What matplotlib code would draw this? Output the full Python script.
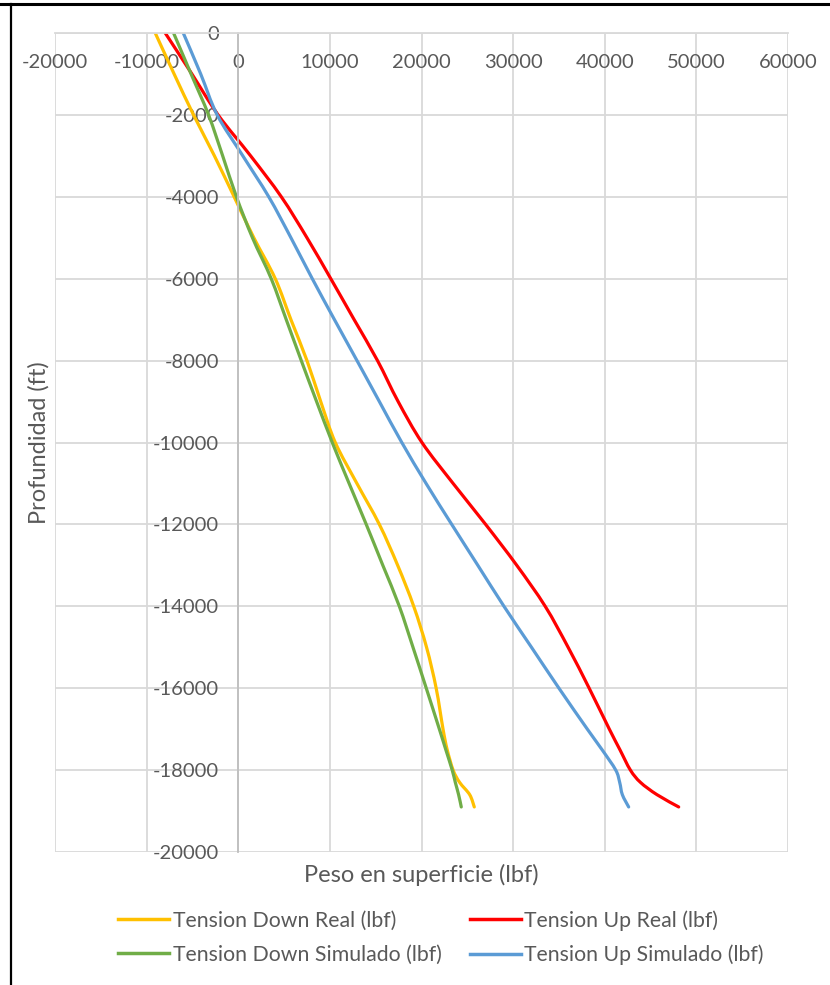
import matplotlib
matplotlib.use("Agg")
import numpy as np
import matplotlib.pyplot as plt
from matplotlib.lines import Line2D
from matplotlib.path import Path
from matplotlib.patches import PathPatch

# Depth stations (ft) and surface weight per case (lbf)
depth = [0, -1000, -2000, -3000, -4000, -5000, -6000, -7000, -8000, -9000,
         -10000, -11000, -12000, -13000, -14000, -15000, -16000, -17000,
         -17500, -18000, -18300, -18600, -18900]

tension_down_real = [-9060, -7000, -4880, -2600, -450, 1700, 4040, 5750, 7500,
                     9000, 10590, 12950, 15400, 17400, 19150, 20550, 21600,
                     22350, 22800, 23450, 24160, 25260, 25760]

tension_up_real = [-7970, -5060, -2200, 1350, 4700, 7500, 10100, 12650, 15200,
                   17450, 20050, 23450, 27000, 30400, 33500, 36000, 38300,
                   40500, 41650, 42800, 43900, 45700, 48070]

tension_down_sim = [-7060, -5150, -3240, -1700, -200, 1550, 3600, 5240, 6880,
                    8550, 10260, 12100, 13970, 15780, 17580, 19070, 20520,
                    21950, 22650, 23350, 23690, 24050, 24340]

tension_up_sim = [-6000, -4100, -2300, 500, 3330, 5750, 8080, 10500, 12960,
                  15400, 17850, 20500, 23300, 26150, 29000, 32000, 35000,
                  38100, 39700, 41200, 41630, 41920, 42610]

series_labels = ["Tension Down Real (lbf)", "Tension Up Real (lbf)",
                 "Tension Down Simulado (lbf)", "Tension Up Simulado (lbf)"]
x_ticks = [-20000, -10000, 0, 10000, 20000, 30000, 40000, 50000, 60000]
y_ticks = [0, -2000, -4000, -6000, -8000, -10000, -12000, -14000, -16000,
           -18000, -20000]

c_yellow = "#FFC000"
c_red = "#FF0000"
c_green = "#70AD47"
c_blue = "#5B9BD5"
grid_c = "#D9D9D9"
text_c = "#595959"

plt.rcParams["font.family"] = ["Lato", "DejaVu Sans"]


def smooth_path(xs, ys):
    """Smoothed line through the points (Catmull-Rom segments as cubic Beziers)."""
    p = np.column_stack([xs, ys]).astype(float)
    n = len(p)
    verts = [p[0]]
    codes = [Path.MOVETO]
    for i in range(n - 1):
        p0 = p[i - 1] if i > 0 else p[i]
        p1, p2 = p[i], p[i + 1]
        p3 = p[i + 2] if i + 2 < n else p[i + 1]
        c1 = p1 + (p2 - p0) / 6.0
        c2 = p2 - (p3 - p1) / 6.0
        verts += [c1, c2, p2]
        codes += [Path.CURVE4] * 3
    return Path(verts, codes)


W, H = 830, 985
fig = plt.figure(figsize=(W / 100, H / 100), dpi=100)
fig.patch.set_facecolor("white")

left, right, top, bottom = 55, 788, 33, 852
ax = fig.add_axes([left / W, 1 - bottom / H, (right - left) / W, (bottom - top) / H])

ax.set_xlim(-20000, 60000)
ax.set_ylim(-20000, 0)
ax.set_xticks(x_ticks)
ax.set_yticks(y_ticks)
ax.set_xticklabels([str(v) for v in x_ticks])
ax.set_yticklabels([str(v) for v in y_ticks])

ax.grid(True, color=grid_c, linewidth=1.3)
ax.set_axisbelow(True)

for s in ["top", "right"]:
    ax.spines[s].set_visible(False)
ax.spines["left"].set_position(("data", 0))
ax.spines["bottom"].set_position(("data", 0))
ax.spines["left"].set_color("#BFBFBF")
ax.spines["bottom"].set_color(grid_c)
ax.spines["left"].set_linewidth(1.3)
ax.spines["bottom"].set_linewidth(1.3)

ax.tick_params(axis="both", length=0, labelsize=14.5, labelcolor=text_c)
ax.tick_params(axis="x", pad=15)
ax.tick_params(axis="y", pad=14)

lw = 2.3
for xs, col in [(tension_down_real, c_yellow), (tension_up_real, c_red),
                (tension_down_sim, c_green), (tension_up_sim, c_blue)]:
    ax.add_patch(PathPatch(smooth_path(xs, depth), facecolor="none",
                           edgecolor=col, lw=lw, capstyle="round",
                           joinstyle="round"))

fig.text(421 / W, 1 - 875 / H, "Peso en superficie (lbf)", ha="center",
         va="center", fontsize=17, color=text_c)
fig.text(39 / W, 1 - 443 / H, "Profundidad (ft)", ha="center", va="center",
         rotation=90, fontsize=17, color=text_c)

handles = [Line2D([], [], color=c_yellow, lw=2.5),
           Line2D([], [], color=c_green, lw=2.5),
           Line2D([], [], color=c_red, lw=2.5),
           Line2D([], [], color=c_blue, lw=2.5)]
labels = [series_labels[0], series_labels[2], series_labels[1], series_labels[3]]
leg = fig.legend(handles, labels, ncol=2, loc="center",
                 bbox_to_anchor=(441 / W, 1 - 937.5 / H), frameon=False,
                 fontsize=15.3, handlelength=2.4, handletextpad=0.17,
                 columnspacing=1.3, labelspacing=0.65, labelcolor=text_c,
                 borderpad=0.0)

# frame lines along the top and left edges
fig.add_artist(Line2D([0, 1], [1 - 3.5 / H, 1 - 3.5 / H], color="black",
                      lw=2.2, transform=fig.transFigure))
fig.add_artist(Line2D([10.5 / W, 10.5 / W], [0, 1 - 3.5 / H], color="black",
                      lw=1.6, transform=fig.transFigure))

fig.savefig("out.png", dpi=100, facecolor="white")
